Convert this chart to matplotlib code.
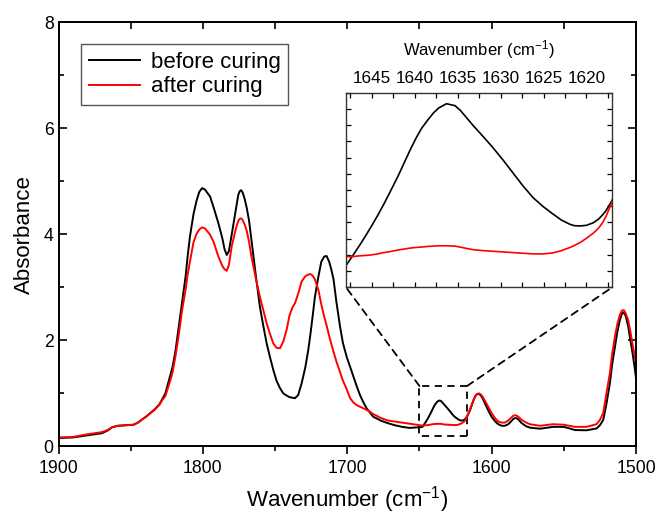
import numpy as np
import matplotlib as mpl
mpl.use('Agg')
import matplotlib.pyplot as plt
from matplotlib.patches import Rectangle, ConnectionPatch
from matplotlib.ticker import MultipleLocator, NullFormatter

plt.rcParams['font.family'] = ['Liberation Sans', 'DejaVu Sans']
plt.rcParams['mathtext.fontset'] = 'custom'
plt.rcParams['mathtext.rm'] = 'Liberation Sans'
plt.rcParams['mathtext.default'] = 'regular'

# values
wavenumber = [1900, 1890, 1880, 1870, 1866, 1863, 1859, 1853, 1848, 1845, 1839, 1833,
              1830, 1828, 1826, 1824, 1822.5, 1821, 1819, 1817, 1814.5, 1812, 1810.5, 1809,
              1806.5, 1804.5, 1802.5, 1800.5, 1798.5, 1795, 1792.5, 1789.3, 1786.5, 1785,
              1783.5, 1782, 1780, 1777, 1775.5, 1774.5, 1773.5, 1772.5, 1771, 1769.5,
              1768, 1766.5, 1765, 1763, 1760.5, 1758, 1755.8, 1753.5, 1751.2, 1749,
              1746.6, 1744.3, 1742, 1740, 1738, 1736.2, 1734, 1731.6, 1729, 1727,
              1725.5, 1724, 1722.4, 1720, 1718, 1716, 1714.3, 1712.5, 1711, 1709.5,
              1707.5, 1705, 1703, 1700.4, 1698, 1695.8, 1693.5, 1691.2, 1689, 1686.6,
              1684, 1682, 1679, 1677, 1672, 1667, 1662, 1657, 1652,
              1648.0, 1647.1, 1646.4, 1645.8, 1645.0, 1644.3, 1643.6, 1642.9, 1641.9,
              1641.2, 1640.5, 1639.8, 1639.2, 1638.5, 1637.8, 1637.2, 1636.3, 1635.3,
              1634.7, 1634.0, 1633.2, 1632.0, 1630.9, 1629.7, 1628.5, 1627.4, 1626.2,
              1625.0, 1623.9, 1622.9, 1621.9, 1621.4, 1620.8, 1620.0, 1619.2, 1618.6,
              1618.1, 1617.7, 1617.1,
              1615, 1613.5, 1612.2, 1611, 1609.8, 1608.6, 1607.5, 1606.5, 1604.6, 1602,
              1600, 1597.5, 1595.4, 1593, 1590.8, 1588.5, 1586.6, 1585, 1583.2, 1581.5,
              1579.2, 1576, 1573.5, 1566.5, 1557.4, 1550, 1546, 1542.3, 1534.2, 1527.3,
              1525, 1522.7, 1520.5, 1518.1, 1516.5, 1514.6, 1513, 1511.2, 1509.8, 1508.4,
              1507, 1505.4, 1504, 1502.4, 1501, 1500]

before = [0.16, 0.17, 0.21, 0.25, 0.30, 0.36, 0.39, 0.40, 0.41, 0.45, 0.57, 0.71,
          0.80, 0.90, 1.00, 1.20, 1.35, 1.50, 1.80, 2.20, 2.70, 3.20, 3.60, 3.95,
          4.38, 4.62, 4.80, 4.87, 4.84, 4.71, 4.50, 4.21, 3.92, 3.72,
          3.61, 3.68, 4.00, 4.50, 4.74, 4.81, 4.83, 4.79, 4.66, 4.48,
          4.25, 3.92, 3.58, 3.15, 2.63, 2.25, 1.94, 1.68, 1.44, 1.24,
          1.10, 1.00, 0.96, 0.93, 0.92, 0.91, 0.97, 1.19, 1.50, 1.82,
          2.12, 2.45, 2.82, 3.20, 3.48, 3.58, 3.59, 3.48, 3.33, 3.15,
          2.72, 2.26, 1.95, 1.69, 1.50, 1.32, 1.14, 0.97, 0.84, 0.72,
          0.63, 0.56, 0.52, 0.49, 0.44, 0.40, 0.37, 0.35, 0.36,
          0.367, 0.402, 0.430, 0.455, 0.490, 0.522, 0.556, 0.592, 0.645,
          0.685, 0.725, 0.762, 0.790, 0.815, 0.838, 0.853, 0.866, 0.860,
          0.846, 0.824, 0.799, 0.764, 0.731, 0.692, 0.651, 0.613, 0.576,
          0.548, 0.526, 0.507, 0.494, 0.490, 0.489, 0.491, 0.499, 0.510,
          0.524, 0.537, 0.564,
          0.68, 0.80, 0.90, 0.96, 0.99, 0.99, 0.96, 0.92, 0.81, 0.66,
          0.56, 0.47, 0.42, 0.39, 0.39, 0.42, 0.47, 0.52, 0.54, 0.51,
          0.44, 0.38, 0.355, 0.335, 0.37, 0.37, 0.34, 0.31, 0.305, 0.34,
          0.40, 0.50, 0.80, 1.19, 1.55, 1.88, 2.15, 2.38, 2.50, 2.53,
          2.45, 2.26, 2.03, 1.76, 1.50, 1.29]

after = [0.17, 0.18, 0.23, 0.27, 0.31, 0.36, 0.39, 0.40, 0.41, 0.45, 0.57, 0.70,
         0.79, 0.88, 0.95, 1.12, 1.25, 1.40, 1.70, 2.05, 2.55, 2.95, 3.25, 3.48,
         3.85, 4.00, 4.09, 4.13, 4.11, 3.99, 3.85, 3.58, 3.40, 3.34,
         3.31, 3.42, 3.78, 4.12, 4.25, 4.29, 4.30, 4.27, 4.18, 4.05,
         3.85, 3.60, 3.39, 3.12, 2.82, 2.55, 2.32, 2.12, 1.94, 1.86,
         1.85, 1.98, 2.20, 2.47, 2.62, 2.70, 2.88, 3.11, 3.21, 3.24,
         3.25, 3.22, 3.15, 2.95, 2.68, 2.45, 2.28, 2.08, 1.93, 1.78,
         1.60, 1.40, 1.24, 1.08, 0.91, 0.83, 0.78, 0.75, 0.72, 0.69,
         0.65, 0.61, 0.57, 0.54, 0.49, 0.47, 0.45, 0.43, 0.41,
         0.394, 0.395, 0.397, 0.398, 0.400, 0.403, 0.407, 0.410, 0.415,
         0.418, 0.421, 0.423, 0.424, 0.426, 0.427, 0.428, 0.428, 0.427,
         0.424, 0.420, 0.416, 0.413, 0.411, 0.409, 0.407, 0.405, 0.403,
         0.403, 0.406, 0.413, 0.423, 0.429, 0.437, 0.451, 0.467, 0.482,
         0.500, 0.520, 0.558,
         0.70, 0.81, 0.90, 0.965, 0.995, 1.00, 0.98, 0.95, 0.86, 0.73,
         0.63, 0.53, 0.47, 0.45, 0.45, 0.49, 0.54, 0.58, 0.59, 0.56,
         0.50, 0.45, 0.42, 0.39, 0.42, 0.41, 0.39, 0.37, 0.37, 0.42,
         0.50, 0.63, 1.00, 1.38, 1.75, 2.07, 2.30, 2.48, 2.56, 2.57,
         2.50, 2.38, 2.18, 1.94, 1.74, 1.57]

zoom_x = [1650, 1617]
zoom_y = [0.2, 1.14]

fig = plt.figure(figsize=(6.59, 5.17), dpi=100)
ax = fig.add_axes([0.0888, 0.1364, 0.8763, 0.821])

ax.plot(wavenumber, before, color='black', lw=1.4, label='before curing')
ax.plot(wavenumber, after, color='red', lw=1.4, label='after curing')

ax.set_xlim(1900, 1500)
ax.set_ylim(0, 8)
ax.xaxis.set_major_locator(MultipleLocator(100))
ax.xaxis.set_minor_locator(MultipleLocator(50))
ax.yaxis.set_major_locator(MultipleLocator(2))
ax.yaxis.set_minor_locator(MultipleLocator(1))
ax.tick_params(axis='x', which='both', direction='out', top=False, labelsize=12.7, width=1.2)
ax.tick_params(axis='y', which='both', direction='in', right=True, labelsize=12.7, width=1.2)
ax.tick_params(which='major', length=6)
ax.tick_params(which='minor', length=3.5)
# top ticks point inward
axt = ax.secondary_xaxis('top')
axt.xaxis.set_major_locator(MultipleLocator(50))
axt.tick_params(direction='in', length=5, width=1.2, labeltop=False)
for s in ax.spines.values():
    s.set_linewidth(1.4)
axt.spines['top'].set_linewidth(1.4)

ax.set_xlabel('Wavenumber (cm$^{-1}$)', fontsize=16, labelpad=5)
ax.set_ylabel('Absorbance', fontsize=16, labelpad=6)

leg = ax.legend(loc='upper left', fontsize=16, handlelength=2.3, borderaxespad=1.0,
                fancybox=False, framealpha=1, edgecolor='#555555',
                handletextpad=0.5, borderpad=0.35, labelspacing=0.15)
leg.get_frame().set_linewidth(1.0)

ax.add_patch(Rectangle((zoom_x[1], zoom_y[0]), zoom_x[0] - zoom_x[1], zoom_y[1] - zoom_y[0],
                       fill=False, ls=(0, (4, 3)), lw=1.3, color='black'))

ins = fig.add_axes([0.525, 0.4443, 0.404, 0.3764])
ins.plot(wavenumber, before, color='black', lw=1.2)
ins.plot(wavenumber, after, color='red', lw=1.2)
ins.set_xlim(1648, 1617)
ins.set_ylim(0.30, 0.90)
ins.xaxis.set_major_locator(MultipleLocator(5))
ins.xaxis.set_minor_locator(MultipleLocator(2.5))
ins.yaxis.set_major_locator(MultipleLocator(0.05))
ins.yaxis.set_major_formatter(NullFormatter())
ins.tick_params(axis='both', which='both', direction='in', top=True, right=True,
                labeltop=True, labelbottom=False, labelsize=12.3, width=0.9, pad=5)
ins.tick_params(which='major', length=3.5)
ins.tick_params(which='minor', length=3.5)
ins.xaxis.set_label_position('top')
ins.set_xlabel('Wavenumber (cm$^{-1}$)', fontsize=12, labelpad=11)
for s in ins.spines.values():
    s.set_linewidth(1.0)
    s.set_color('#333333')

for xa, xb in [(zoom_x[0], 0), (zoom_x[1], 1)]:
    con = ConnectionPatch(xyA=(xa, zoom_y[1]), coordsA=ax.transData,
                          xyB=(xb, 0), coordsB=ins.transAxes,
                          ls=(0, (4, 3)), lw=1.3, color='black')
    fig.add_artist(con)

fig.savefig('out.png', dpi=100)
